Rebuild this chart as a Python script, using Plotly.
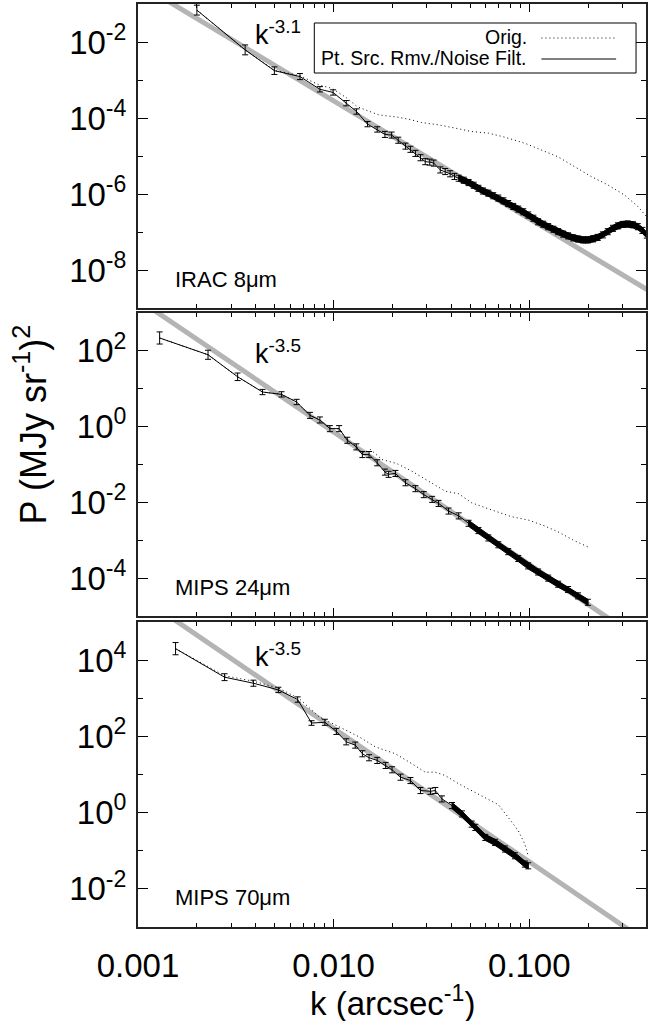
import plotly.graph_objects as go

# ---------------- data ----------------
# IRAC 8um : point-source removed / noise filtered
k_irac = [0.00200, 0.00353, 0.00498, 0.00673, 0.00851, 0.00994, 0.0116, 0.0131, 0.0149, 0.0167,
          0.0183, 0.0198, 0.0214, 0.0233, 0.0247, 0.0262, 0.0278, 0.0294, 0.0310, 0.0325,
          0.0351, 0.0372, 0.0394, 0.0415, 0.0436, 0.0463, 0.0490, 0.0520, 0.0550, 0.0580,
          0.0618, 0.0655, 0.0695, 0.0738, 0.0781, 0.0828, 0.0879, 0.0932, 0.0988, 0.105,
          0.111, 0.118, 0.125, 0.133, 0.1406, 0.149, 0.158, 0.168, 0.178, 0.188,
          0.1995, 0.212, 0.224, 0.238, 0.252, 0.268, 0.284, 0.300, 0.319, 0.339,
          0.359, 0.379, 0.399]
p_irac = [6.9e-2, 6.2e-3, 1.76e-3, 1.23e-3, 5.7e-4, 4.7e-4, 2.45e-4, 1.48e-4, 6.9e-5, 5.0e-5,
          3.7e-5, 3.55e-5, 2.6e-5, 1.82e-5, 1.5e-5, 1.17e-5, 9.0e-6, 7.1e-6, 6.9e-6, 6.5e-6,
          4.3e-6, 3.9e-6, 3.4e-6, 2.9e-6, 2.6e-6, 2.3e-6, 2.0e-6, 1.7e-6, 1.41e-6, 1.2e-6,
          1.05e-6, 9.0e-7, 7.8e-7, 6.6e-7, 5.6e-7, 4.7e-7, 4.0e-7, 3.4e-7, 2.8e-7, 2.3e-7,
          1.86e-7, 1.6e-7, 1.38e-7, 1.18e-7, 1.02e-7, 8.8e-8, 7.9e-8, 7.0e-8, 6.5e-8, 6.2e-8,
          6.2e-8, 6.6e-8, 7.2e-8, 8.4e-8, 1.02e-7, 1.25e-7, 1.45e-7, 1.58e-7, 1.62e-7, 1.55e-7,
          1.38e-7, 1.1e-7, 8.3e-8]
err_irac_dex = [0.13, 0.13, 0.10, 0.08, 0.07, 0.07, 0.07, 0.07, 0.07, 0.07]
err_irac_tail = 0.08
# IRAC 8um : original
k_irac_orig = [0.00200, 0.00353, 0.00498, 0.00673, 0.00843, 0.00982, 0.01164, 0.01318, 0.01462, 0.01706,
               0.0208, 0.0242, 0.0282, 0.0344, 0.042, 0.0507, 0.0618, 0.0755, 0.0955, 0.115,
               0.1406, 0.171, 0.207, 0.252, 0.308, 0.359, 0.399]
p_irac_orig = [6.9e-2, 6.2e-3, 1.8e-3, 1.3e-3, 7.4e-4, 6.0e-4, 3.4e-4, 2.0e-4, 1.62e-4, 1.2e-4,
               1.07e-4, 9.3e-5, 7.6e-5, 6.6e-5, 5.4e-5, 4.4e-5, 4.0e-5, 3.1e-5, 2.14e-5, 1.45e-5,
               9.5e-6, 5.2e-6, 2.9e-6, 1.74e-6, 9.3e-7, 4.7e-7, 2.5e-7]

# MIPS 24um
k_m24 = [0.00129, 0.00228, 0.00323, 0.00433, 0.00542, 0.00647, 0.00757, 0.00851, 0.00957, 0.01067,
         0.01175, 0.01306, 0.01403, 0.01518, 0.0167, 0.0183, 0.0191, 0.0207, 0.0233, 0.0262,
         0.0289, 0.0319, 0.0344, 0.0387, 0.0436, 0.049, 0.055, 0.0618, 0.0695, 0.0781,
         0.0879, 0.0988, 0.111, 0.125, 0.1406, 0.158, 0.1776, 0.1995]
p_m24 = [219, 79, 20.7, 8.2, 7.1, 4.47, 1.98, 1.50, 0.885, 0.885,
         0.436, 0.292, 0.183, 0.183, 0.111, 0.063, 0.055, 0.058, 0.033, 0.023,
         0.016, 0.012, 0.0094, 0.0059, 0.0044, 0.0028, 0.0018, 0.00115, 7.6e-4, 5.0e-4,
         3.3e-4, 2.1e-4, 1.45e-4, 1.0e-4, 6.9e-5, 5.0e-5, 3.4e-5, 2.3e-5]
err_m24_dex = [0.16, 0.12, 0.10, 0.07, 0.07, 0.07]
err_m24_tail = 0.08
k_m24_orig = [0.00129, 0.00228, 0.00323, 0.00433, 0.00542, 0.00647, 0.00757, 0.00851, 0.00957, 0.01067,
              0.01175, 0.01306, 0.01403, 0.01545, 0.01766, 0.02104, 0.0251, 0.0306, 0.0372, 0.0436,
              0.0507, 0.0595, 0.0695, 0.081, 0.0988, 0.120, 0.1406, 0.171, 0.1995]
p_m24_orig = [219, 79, 20.7, 8.2, 7.1, 4.47, 1.98, 1.50, 0.885, 0.885,
              0.436, 0.30, 0.20, 0.248, 0.1355, 0.106, 0.0667, 0.0364, 0.0198, 0.0169,
              0.0098, 0.00724, 0.00537, 0.0042, 0.00342, 0.00238, 0.00166, 9.6e-4, 6.7e-4]

# MIPS 70um
k_m70 = [0.001556, 0.00277, 0.00389, 0.00522, 0.00655, 0.00771, 0.00902, 0.01033, 0.0116, 0.0129,
         0.01403, 0.01518, 0.0167, 0.01845, 0.0199, 0.02198, 0.0247, 0.0278, 0.0313, 0.0331,
         0.0358, 0.0403, 0.0453, 0.0508, 0.053, 0.0596, 0.0669, 0.0752, 0.0845, 0.095, 0.0988]
p_m70 = [2.0e4, 3570, 2480, 1655, 925, 224, 234, 135, 72, 59,
         35, 27.5, 23.4, 17.3, 13.3, 8.5, 6.95, 3.8, 3.63, 3.8,
         2.29, 1.53, 0.925, 0.50, 0.41, 0.224, 0.166, 0.111, 0.074, 0.0447, 0.0403]
err_m70_dex = [0.16, 0.09, 0.08, 0.07, 0.07, 0.06]
err_m70_tail = 0.08
k_m70_orig = [0.001556, 0.00277, 0.00389, 0.00522, 0.00667, 0.00843, 0.0111, 0.0135, 0.0164, 0.0207,
              0.0252, 0.0294, 0.0331, 0.0372, 0.0436, 0.0508, 0.0596, 0.0695, 0.0781, 0.0879,
              0.095, 0.0988]
p_m70_orig = [2.0e4, 3900, 2800, 1860, 980, 324, 161, 97, 52.5, 35,
              19, 11.5, 11.5, 9.4, 5.7, 3.8, 2.53, 1.62, 0.75, 0.336,
              0.15, 0.074]

# k above which the error bars overlap into a solid band
band_start_k = [0.042, 0.045, 0.040]

# power-law fits  P = 10**log_amp * k**slope
fit_slopes = [-3.1, -3.5, -3.5]
fit_log_amps = [-9.75, -7.14, -4.79]
fit_labels = ["k<sup>-3.1</sup>", "k<sup>-3.5</sup>", "k<sup>-3.5</sup>"]
panel_names = ["IRAC 8μm", "MIPS 24μm", "MIPS 70μm"]

x_ticks = [0.001, 0.01, 0.1]
x_ticktext = ["0.001", "0.010", "0.100"]
y_major_exp = [[-2, -4, -6, -8], [2, 0, -2, -4], [4, 2, 0, -2]]
y_minor_exp = [[-3, -5, -7], [1, -1, -3], [3, 1, -1]]
y_range_exp = [[-9, -1], [-5, 3], [-3, 5]]

# ---------------- layout geometry ----------------
W, H = 649, 1021
L, R, T, B = 138, 1, 4, 94
PW, PH = W - L - R, H - T - B
FONT = "Liberation Sans, Arial, Helvetica, sans-serif"
FRAME = "#222222"


def pxx(x):
    return (x - L) / PW


def pxy(y):
    return (H - B - y) / PH


panel_px = [(4, 308), (313, 616), (622, 927)]

fig = go.Figure()

series = [
    (k_irac, p_irac, err_irac_dex, err_irac_tail, k_irac_orig, p_irac_orig),
    (k_m24, p_m24, err_m24_dex, err_m24_tail, k_m24_orig, p_m24_orig),
    (k_m70, p_m70, err_m70_dex, err_m70_tail, k_m70_orig, p_m70_orig),
]

for i, (ks, ps, ed, etail, ko, po) in enumerate(series):
    xa = "x" if i == 0 else f"x{i+1}"
    ya = "y" if i == 0 else f"y{i+1}"
    # gray power-law fit over the full axis span (clipped by the axes)
    kfit = [0.001, 0.4]
    pfit = [10 ** fit_log_amps[i] * kk ** fit_slopes[i] for kk in kfit]
    fig.add_trace(go.Scatter(x=kfit, y=pfit, mode="lines", xaxis=xa, yaxis=ya,
                             line=dict(color="#b4b4b4", width=5), showlegend=False,
                             hoverinfo="skip"))
    # original (dotted)
    fig.add_trace(go.Scatter(x=ko, y=po, mode="lines", xaxis=xa, yaxis=ya,
                             line=dict(color="black", width=1, dash="1px,3px"),
                             showlegend=False))
    # filtered with error bars
    errs = [ed[j] if j < len(ed) else etail for j in range(len(ps))]
    up = [p * (10 ** e - 1) for p, e in zip(ps, errs)]
    lo = [p * (1 - 10 ** (-e)) for p, e in zip(ps, errs)]
    # dense part: overlapping error bars form a solid envelope
    sel = [j for j in range(len(ks)) if ks[j] >= band_start_k[i]]
    env_x = [ks[j] for j in sel] + [ks[j] for j in reversed(sel)]
    env_y = [ps[j] + up[j] for j in sel] + [ps[j] - lo[j] for j in reversed(sel)]
    fig.add_trace(go.Scatter(x=env_x, y=env_y, mode="lines", xaxis=xa, yaxis=ya,
                             fill="toself", fillcolor="black",
                             line=dict(color="black", width=1), showlegend=False,
                             hoverinfo="skip"))
    fig.add_trace(go.Scatter(x=ks, y=ps, mode="lines", xaxis=xa, yaxis=ya,
                             line=dict(color="black", width=1),
                             error_y=dict(type="data", array=up, arrayminus=lo, symmetric=False,
                                          color="black", thickness=1, width=3),
                             showlegend=False))

layout_axes = {}
for i in range(3):
    top, bot = panel_px[i]
    xname = "xaxis" if i == 0 else f"xaxis{i+1}"
    yname = "yaxis" if i == 0 else f"yaxis{i+1}"
    ya = "y" if i == 0 else f"y{i+1}"
    xa = "x" if i == 0 else f"x{i+1}"
    xd = dict(
        type="log", range=[-3, -0.403], domain=[0, 1], anchor=ya,
        tickmode="array", tickvals=x_ticks,
        showticklabels=(i == 2),
        ticks="inside", ticklen=8, tickwidth=1, tickcolor="black",
        minor=dict(tickmode="array",
                   tickvals=[m * d for d in (0.001, 0.01, 0.1) for m in range(2, 10) if m * d < 0.41],
                   ticks="inside", ticklen=4, tickwidth=1, tickcolor="black", showgrid=False),
        showline=True, linecolor=FRAME, linewidth=2, mirror="allticks",
        showgrid=False, zeroline=False,
        tickfont=dict(family=FONT, size=33, color="black"),
        ticklabelstandoff=8,
    )
    if i == 2:
        xd["ticktext"] = x_ticktext
    layout_axes[xname] = xd
    layout_axes[yname] = dict(
        type="log", range=y_range_exp[i], domain=[pxy(bot), pxy(top)], anchor=xa,
        tickmode="array", tickvals=[10.0 ** e for e in y_major_exp[i]],
        ticktext=[f"10<sup>{e}</sup>" for e in y_major_exp[i]],
        ticks="inside", ticklen=10, tickwidth=1, tickcolor="black",
        minor=dict(tickmode="array", tickvals=[10.0 ** e for e in y_minor_exp[i]],
                   ticks="inside", ticklen=5, tickwidth=1, tickcolor="black", showgrid=False),
        showline=True, linecolor=FRAME, linewidth=2, mirror="allticks",
        showgrid=False, zeroline=False,
        tickfont=dict(family=FONT, size=33, color="black"),
        ticklabelstandoff=3,
    )

annotations = []
shapes = []
# power-law labels and panel names
k_label_y = [33, 352, 655]
name_y = [280, 587, 897]
for i in range(3):
    annotations.append(dict(text=fit_labels[i], x=pxx(253), y=pxy(k_label_y[i]), xref="paper",
                            yref="paper", xanchor="left", yanchor="middle", showarrow=False,
                            font=dict(family=FONT, size=27, color="black")))
    annotations.append(dict(text=panel_names[i], x=pxx(173), y=pxy(name_y[i]), xref="paper",
                            yref="paper", xanchor="left", yanchor="middle", showarrow=False,
                            font=dict(family=FONT, size=22, color="black")))

# axis titles
annotations.append(dict(text="k (arcsec<sup>-1</sup>)", x=pxx(393), y=pxy(1001), xref="paper",
                        yref="paper", xanchor="center", yanchor="middle", showarrow=False,
                        font=dict(family=FONT, size=33, color="black")))
annotations.append(dict(text="P (MJy sr<sup>-1</sup>)<sup>2</sup>", x=pxx(30), y=pxy(424),
                        xref="paper", yref="paper", xanchor="center", yanchor="middle",
                        textangle=-90, showarrow=False,
                        font=dict(family=FONT, size=36, color="black")))

# legend box (drawn manually: text right-aligned, line sample on the right)
shapes.append(dict(type="rect", xref="paper", yref="paper", x0=pxx(315), x1=pxx(638),
                   y0=pxy(73), y1=pxy(23), line=dict(color="black", width=1),
                   fillcolor="white", layer="above"))
shapes.append(dict(type="line", xref="paper", yref="paper", x0=pxx(543), x1=pxx(618),
                   y0=pxy(38), y1=pxy(38), line=dict(color="black", width=1, dash="1px,3px")))
shapes.append(dict(type="line", xref="paper", yref="paper", x0=pxx(543), x1=pxx(618),
                   y0=pxy(59), y1=pxy(59), line=dict(color="black", width=1)))
annotations.append(dict(text="Orig.", x=pxx(531), y=pxy(37), xref="paper", yref="paper",
                        xanchor="right", yanchor="middle", showarrow=False,
                        font=dict(family=FONT, size=19.5, color="black")))
annotations.append(dict(text="Pt. Src. Rmv./Noise Filt.", x=pxx(531), y=pxy(58), xref="paper",
                        yref="paper", xanchor="right", yanchor="middle", showarrow=False,
                        font=dict(family=FONT, size=19.5, color="black")))

fig.update_layout(
    width=W, height=H,
    margin=dict(l=L, r=R, t=T, b=B),
    paper_bgcolor="white", plot_bgcolor="white",
    showlegend=False,
    annotations=annotations, shapes=shapes,
    font=dict(family=FONT, color="black"),
    **layout_axes,
)

fig.write_html("out.html", config={"displayModeBar": False},
               post_script="document.body.style.margin='0';document.body.style.overflow='hidden';")
